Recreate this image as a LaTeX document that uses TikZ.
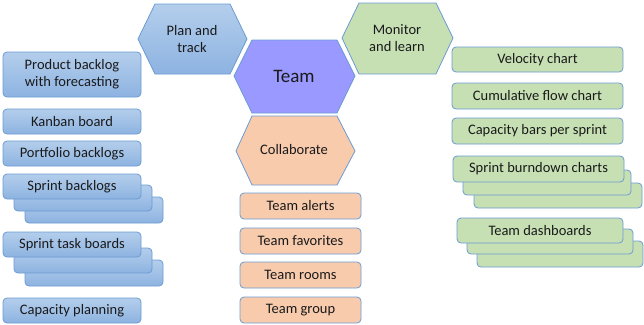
\documentclass[tikz,border=0pt]{standalone}
\usepackage{fontspec}
\setmainfont{Carlito}
\definecolor{bord}{HTML}{6B9BD2}
\definecolor{btop}{HTML}{B4CEEC}
\definecolor{bbot}{HTML}{8DB3E1}
\definecolor{grn}{HTML}{C6E0B4}
\definecolor{org}{HTML}{F8CBAD}
\definecolor{teamc}{HTML}{9999FF}
\definecolor{txt}{HTML}{1A1A1A}
\tikzset{
  boxbase/.style={draw=bord, line width=0.8pt, rounded corners=4pt, inner sep=0pt,
    text=txt, font=\fontsize{14.5}{17}\selectfont, align=center},
  bluebox/.style={boxbase, top color=btop, bottom color=bbot},
  greenbox/.style={boxbase, fill=grn},
  orangebox/.style={boxbase, fill=org},
  hexbase/.style={draw=bord, line width=0.8pt, line join=miter},
  hextext/.style={text=txt, font=\fontsize{14.5}{17}\selectfont, align=center, inner sep=0pt},
}
% name, x1, y1, x2, y2, style, text
\newcommand\bx[7]{\node[#6, minimum width={#4pt-#2pt}, minimum height={#5pt-#3pt}]
  (#1) at ({(#2+#4)/2},{(#3+#5)/2}) {#7};}
\begin{document}
\begin{tikzpicture}[x=1pt,y=-1pt]
\useasboundingbox (0,0) rectangle (644,324);
% hexagons
\path[hexbase, top color=btop, bottom color=bbot]
  (138,39) -- (155,4) -- (230,4) -- (247,39) -- (230,74) -- (155,74) -- cycle;
\node[hextext] (plan) at (192,39) {Plan and\\track};
\path[hexbase, fill=teamc]
  (234,76) -- (252,40) -- (337,40) -- (355,76) -- (337,113) -- (252,113) -- cycle;
\node[hextext, font=\fontsize{19}{22}\selectfont] (team) at (294,76) {Team};
\path[hexbase, fill=grn]
  (342,38) -- (359,3) -- (436,3) -- (453,38) -- (436,74) -- (359,74) -- cycle;
\node[hextext] (monitor) at (397,38) {Monitor\\and learn};
\path[hexbase, fill=org]
  (236,151) -- (252,116) -- (337,116) -- (355,151) -- (337,185) -- (252,185) -- cycle;
\node[hextext] (collab) at (294,150) {Collaborate};
% left blue boxes
\bx{pb}{3}{52}{141}{97}{bluebox}{Product backlog\\with forecasting}
\bx{kb}{3}{109}{141}{134}{bluebox}{Kanban board}
\bx{pf}{3}{141}{141}{166}{bluebox}{Portfolio backlogs}
\bx{sb3}{25}{197}{163}{223}{bluebox}{}
\bx{sb2}{14}{185}{152}{211}{bluebox}{}
\bx{sb}{3}{174}{141}{199}{bluebox}{Sprint backlogs}
\bx{st3}{25}{260}{163}{286}{bluebox}{}
\bx{st2}{14}{248}{152}{273}{bluebox}{}
\bx{st}{3}{232}{141}{257}{bluebox}{Sprint task boards}
\bx{cp}{3}{298}{141}{323}{bluebox}{Capacity planning}
% orange boxes
\bx{ta}{240}{193}{361}{219}{orangebox}{Team alerts}
\bx{tf}{240}{228}{361}{254}{orangebox}{Team favorites}
\bx{tr}{240}{262}{361}{288}{orangebox}{Team rooms}
\bx{tg}{240}{297}{361}{323}{orangebox}{Team group}
% green boxes
\bx{vc}{452}{47}{623}{72}{greenbox}{Velocity chart}
\bx{cf}{452}{83}{623}{109}{greenbox}{Cumulative flow chart}
\bx{cb}{452}{118}{623}{144}{greenbox}{Capacity bars per sprint}
\bx{sd3}{474}{183}{642}{208}{greenbox}{}
\bx{sd2}{463}{170}{631}{195}{greenbox}{}
\bx{sd}{453}{156}{624}{182}{greenbox}{Sprint burndown charts}
\bx{td3}{477}{241}{643}{267}{greenbox}{}
\bx{td2}{467}{229}{633}{254}{greenbox}{}
\bx{td}{457}{218}{623}{243}{greenbox}{Team dashboards}
\end{tikzpicture}
\end{document}
